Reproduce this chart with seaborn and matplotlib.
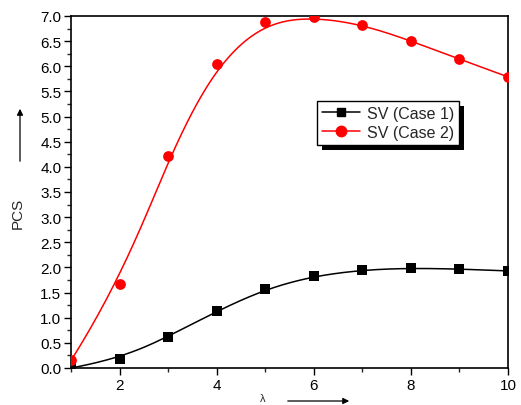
import numpy as np
import pandas as pd
import matplotlib
matplotlib.use("Agg")
import matplotlib.pyplot as plt
from matplotlib.lines import Line2D
from matplotlib.patches import Rectangle
from matplotlib.ticker import MultipleLocator
import seaborn as sns

# ---- data ----
lam = [1, 2, 3, 4, 5, 6, 7, 8, 9, 10]
case1 = [0.0, 0.18, 0.62, 1.13, 1.57, 1.83, 1.95, 1.99, 1.97, 1.93]
case2 = [0.15, 1.68, 4.21, 6.05, 6.88, 6.98, 6.83, 6.51, 6.14, 5.79]
labels = ["SV (Case 1)", "SV (Case 2)"]
colors = ["black", "red"]
markers = ["s", "o"]

sns.set_style("white")
plt.rcParams['font.family'] = ['Liberation Sans', 'DejaVu Sans']


def bspline(xs, ys, n=300, k=3):
    P = np.column_stack([xs, ys]).astype(float)
    m = len(P)
    knots = np.concatenate([np.zeros(k), np.linspace(0, 1, m - k + 1), np.ones(k)])
    t = np.linspace(0, 1, n)
    t[-1] = 1 - 1e-12

    def N(i, p, tt):
        if p == 0:
            return ((knots[i] <= tt) & (tt < knots[i + 1])).astype(float)
        a = np.zeros_like(tt)
        d1 = knots[i + p] - knots[i]
        d2 = knots[i + p + 1] - knots[i + 1]
        if d1 > 0:
            a += (tt - knots[i]) / d1 * N(i, p - 1, tt)
        if d2 > 0:
            a += (knots[i + p + 1] - tt) / d2 * N(i + 1, p - 1, tt)
        return a

    B = np.column_stack([N(i, k, t) for i in range(m)])
    C = B @ P
    return C[:, 0], C[:, 1]


fig = plt.figure(figsize=(5.21, 4.06), dpi=100)
ax = fig.add_axes([71 / 521, 1 - 369 / 406, 437 / 521, 352 / 406])

for ys, c, mk, lab in zip([case1, case2], colors, markers, labels):
    sx, sy = bspline(lam, ys)
    sns.lineplot(x=sx, y=sy, color=c, lw=1.1, ax=ax, sort=False, zorder=2)
    sns.scatterplot(x=lam, y=ys, color=c, marker=mk, s=60 if mk == "o" else 42,
                    edgecolor=c, linewidth=0, ax=ax, zorder=3, clip_on=True)

ax.set_xlim(1, 10)
ax.set_ylim(0, 7)
ax.xaxis.set_major_locator(MultipleLocator(2))
ax.xaxis.set_minor_locator(MultipleLocator(1))
ax.yaxis.set_major_locator(MultipleLocator(0.5))
ax.yaxis.set_minor_locator(MultipleLocator(0.25))
ax.set_xticks([2, 4, 6, 8, 10])
ax.yaxis.set_major_formatter(matplotlib.ticker.FormatStrFormatter('%.1f'))
ax.tick_params(which='major', direction='out', length=5, width=1, bottom=True, left=True,
               labelsize=11, colors='black', pad=2)
ax.tick_params(which='minor', direction='out', length=3, width=1, bottom=True, left=True)
for s in ax.spines.values():
    s.set_visible(True)
    s.set_color('black')
    s.set_linewidth(1.2)

ax.set_xlabel("")
ax.set_ylabel("")
fig.text(18 / 521, 1 - 213 / 406, "PCS", rotation=90, ha='center', va='center', fontsize=11)
fig.text(263 / 521, 1 - 399 / 406, "λ", ha='center', va='center', fontsize=8)
ax.annotate("", xy=(20 / 521, 1 - 107 / 406), xytext=(20 / 521, 1 - 165 / 406),
            xycoords='figure fraction',
            arrowprops=dict(arrowstyle='-|>', color='black', lw=0.9, mutation_scale=9))
ax.annotate("", xy=(352 / 521, 1 - 402 / 406), xytext=(285 / 521, 1 - 402 / 406),
            xycoords='figure fraction',
            arrowprops=dict(arrowstyle='-|>', color='black', lw=0.9, mutation_scale=9))

handles = [Line2D([], [], color=c, marker=mk, markersize=7.5 if mk == 'o' else 6, lw=1.1)
           for c, mk in zip(colors, markers)]
leg = ax.legend(handles, labels, loc='upper left',
                bbox_to_anchor=((317 - 71) / 437, (369 - 102) / 352),
                borderaxespad=0, fancybox=False, frameon=True, fontsize=11.5,
                handlelength=2.4, handletextpad=0.4, borderpad=0.3, labelspacing=0.25)
leg.get_frame().set_edgecolor('black')
leg.get_frame().set_linewidth(1.0)
leg.get_frame().set_alpha(1)
leg.set_zorder(10)

fig.canvas.draw()
bb = leg.get_window_extent(fig.canvas.get_renderer())
sh = Rectangle((bb.x0 + 5, bb.y0 - 5), bb.width, bb.height, transform=None,
               facecolor='black', edgecolor='none', zorder=9, clip_on=False)
ax.add_artist(sh)

fig.savefig("out.png", dpi=100)
